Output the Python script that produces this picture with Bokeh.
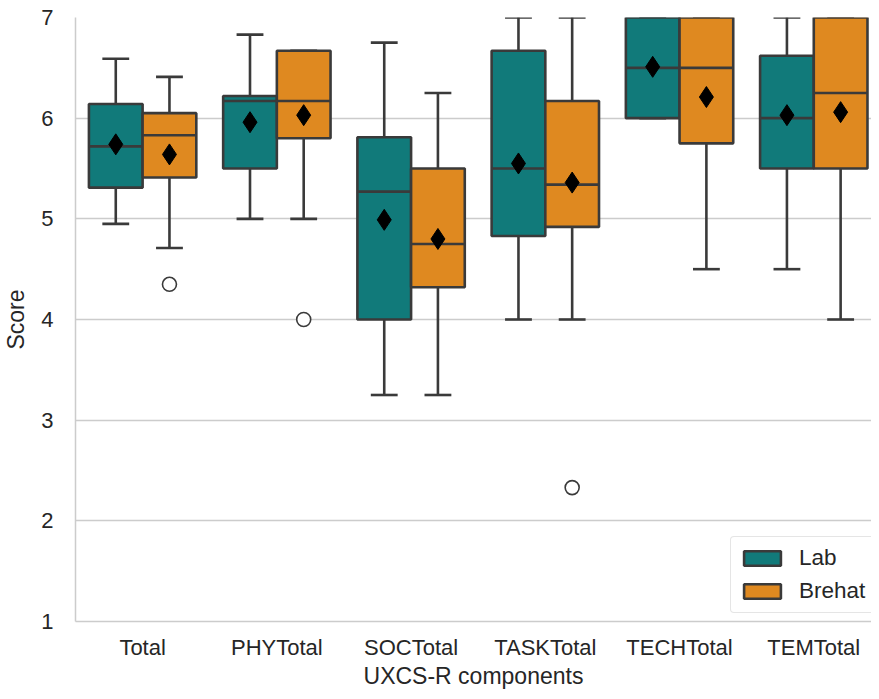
import numpy as np
from bokeh.plotting import figure
from bokeh.models import (ColumnDataSource, Range1d, FixedTicker, Legend, LegendItem)
from bokeh.embed import file_html
from bokeh.resources import INLINE

# ---------------- data ----------------
categories = ["Total", "PHYTotal", "SOCTotal", "TASKTotal", "TECHTotal", "TEMTotal"]
groups = ["Lab", "Brehat"]

lab_low = [4.95, 5.0, 3.25, 4.0, 6.0, 4.5]
lab_q1 = [5.31, 5.5, 4.0, 4.83, 6.0, 5.5]
lab_median = [5.72, 6.17, 5.27, 5.5, 6.5, 6.0]
lab_q3 = [6.14, 6.22, 5.81, 6.67, 7.0, 6.62]
lab_high = [6.59, 6.83, 6.75, 7.0, 7.0, 7.0]
lab_mean = [5.74, 5.96, 4.99, 5.55, 6.51, 6.03]
lab_outlier_cat = []
lab_outlier_val = []

brehat_low = [4.71, 5.0, 3.25, 4.0, 4.5, 4.0]
brehat_q1 = [5.41, 5.8, 4.32, 4.92, 5.75, 5.5]
brehat_median = [5.83, 6.17, 4.75, 5.34, 6.5, 6.25]
brehat_q3 = [6.05, 6.67, 5.5, 6.17, 7.0, 7.0]
brehat_high = [6.41, 6.67, 6.25, 7.0, 7.0, 7.0]
brehat_mean = [5.64, 6.03, 4.8, 5.36, 6.21, 6.06]
brehat_outlier_cat = ["Total", "PHYTotal", "TASKTotal"]
brehat_outlier_val = [4.35, 4.0, 2.33]

y_ticks = [1, 2, 3, 4, 5, 6, 7]

# ---------------- style ----------------
TEAL = "#117a7a"
ORANGE = "#df8920"
LINE = "#3a3a3a"
GRID = "#cccccc"
TEXT = "#262626"
FONT = "Liberation Sans"

p = figure(width=871, height=691, output_backend="svg", toolbar_location=None,
           x_range=Range1d(-0.5, 5.43), y_range=Range1d(1, 7),
           min_border_left=72, min_border_top=17, min_border_right=0,
           min_border_bottom=64)
p.outline_line_color = None
p.background_fill_color = "white"
p.border_fill_color = "white"

half = 0.2
cap = 0.1
LW = 2.6

def draw(idx_offset, low, q1, med, q3, high, mean, out_cat, out_val, color):
    x = np.arange(len(categories)) + idx_offset
    src = ColumnDataSource(dict(x=x, xl=x - half, xr=x + half, cl=x - cap, cr=x + cap,
                                low=low, q1=q1, med=med, q3=q3, high=high, mean=mean))
    p.segment(x0="x", y0="q3", x1="x", y1="high", source=src, line_color=LINE, line_width=LW)
    p.segment(x0="x", y0="q1", x1="x", y1="low", source=src, line_color=LINE, line_width=LW)
    p.segment(x0="cl", y0="high", x1="cr", y1="high", source=src, line_color=LINE, line_width=LW)
    p.segment(x0="cl", y0="low", x1="cr", y1="low", source=src, line_color=LINE, line_width=LW)
    box = p.quad(left="xl", right="xr", bottom="q1", top="q3", source=src,
                 fill_color=color, line_color=LINE, line_width=LW)
    p.segment(x0="xl", y0="med", x1="xr", y1="med", source=src, line_color=LINE, line_width=LW)
    p.scatter(x="x", y="mean", source=src, marker="diamond", size=21,
              fill_color="black", line_color="black", line_width=1)
    if out_cat:
        ox = [categories.index(c) + idx_offset for c in out_cat]
        p.scatter(x=ox, y=out_val, marker="circle", size=14, fill_color="white",
                  line_color=LINE, line_width=1.6)
    return box

lab_box = draw(-0.2, lab_low, lab_q1, lab_median, lab_q3, lab_high, lab_mean,
               lab_outlier_cat, lab_outlier_val, TEAL)
br_box = draw(0.2, brehat_low, brehat_q1, brehat_median, brehat_q3, brehat_high, brehat_mean,
              brehat_outlier_cat, brehat_outlier_val, ORANGE)

# ---------------- axes ----------------
p.xaxis.ticker = FixedTicker(ticks=list(range(len(categories))))
p.xaxis.major_label_overrides = {i: c for i, c in enumerate(categories)}
p.yaxis.ticker = FixedTicker(ticks=y_ticks)

for ax in (p.xaxis[0], p.yaxis[0]):
    ax.axis_line_color = GRID
    ax.axis_line_width = 1.5
    ax.major_tick_line_color = None
    ax.minor_tick_line_color = None
    ax.major_label_text_font = FONT
    ax.major_label_text_font_size = "22px"
    ax.major_label_text_color = TEXT
    ax.axis_label_text_font = FONT
    ax.axis_label_text_font_size = "23px"
    ax.axis_label_text_font_style = "normal"
    ax.axis_label_text_color = TEXT

p.xaxis.axis_label = "UXCS-R components"
p.yaxis.axis_label = "Score"
p.xaxis.major_label_standoff = 7
p.xaxis.axis_label_standoff = 0
p.yaxis.major_label_standoff = 16
p.yaxis.axis_label_standoff = 9

p.xgrid.grid_line_color = None
p.ygrid.ticker = FixedTicker(ticks=y_ticks)
p.ygrid.grid_line_color = GRID
p.ygrid.grid_line_width = 1.5

# ---------------- legend ----------------
legend = Legend(items=[LegendItem(label=groups[0], renderers=[lab_box]),
                       LegendItem(label=groups[1], renderers=[br_box])],
                location=(655, 8))
legend.label_text_font = FONT
legend.label_text_font_size = "22.5px"
legend.label_text_color = TEXT
legend.glyph_width = 46
legend.glyph_height = 18
legend.label_standoff = 14
legend.padding = 8
legend.spacing = 7
legend.margin = 0
legend.border_line_color = GRID
legend.border_line_width = 1.5
legend.background_fill_color = "white"
legend.background_fill_alpha = 0.85
if "border_radius" in Legend.properties():
    legend.border_radius = 4
p.add_layout(legend, "center")

open("out.html", "w").write(file_html(p, INLINE))
